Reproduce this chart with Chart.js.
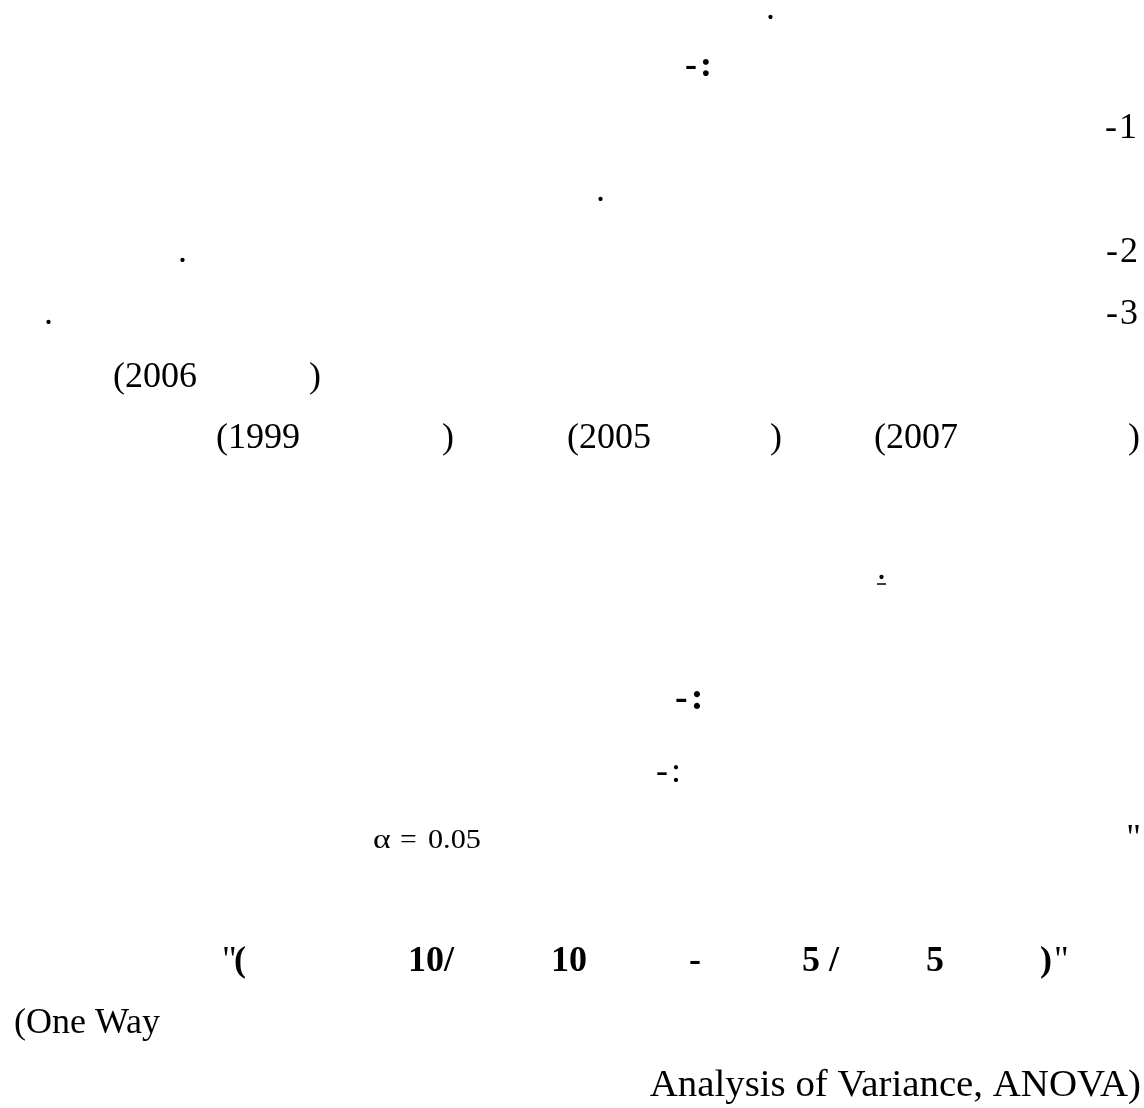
<!DOCTYPE html>
<html>
<head>
<meta charset="utf-8">
<script src="https://cdn.jsdelivr.net/npm/chart.js@4/dist/chart.umd.min.js"></script>
<style>
  html, body { margin: 0; padding: 0; background: #ffffff; }
  #wrap { width: 1144px; height: 1108px; }
  canvas { display: block; }
</style>
</head>
<body>
<div id="wrap"><canvas id="c" width="1144" height="1108"></canvas></div>
<script>
// ---- text content (values) ----
const periodMark = '.';
const sectionMarks = ['-:', '-:', '-:'];
const itemNumbers = ['-1', '-2', '-3'];
const citationOpen = ['(2006', '(1999', '(2005', '(2007'];
const citationClose = ')';
const alphaParts = ['\u03B1', '=', '0.05'];
const quoteMark = '"';
const boldDateParts = ['(', '10/', '10', '-', '5 /', '5', ')'];
const anovaLines = ['(One Way', 'Analysis of Variance, ANOVA)'];

// ---- layout (positions / styles), kept separate from the text values ----
const SERIF = '"Liberation Serif", "Times New Roman", serif';
const layout = [
  { t: periodMark, x: 766, y: 19 },
  { t: sectionMarks[0], x: 685, y: 76, bold: true, spacing: 3 },
  { t: itemNumbers[0], x: 1105, y: 138, spacing: 2 },
  { t: periodMark, x: 596, y: 201 },
  { t: itemNumbers[1], x: 1106, y: 262, spacing: 2 },
  { t: periodMark, x: 178, y: 262 },
  { t: itemNumbers[2], x: 1106, y: 324, spacing: 2 },
  { t: periodMark, x: 44, y: 324 },
  { t: citationOpen[0], x: 113, y: 387 },
  { t: citationClose, x: 309, y: 387 },
  { t: citationOpen[1], x: 216, y: 448 },
  { t: citationClose, x: 442, y: 448 },
  { t: citationOpen[2], x: 567, y: 448 },
  { t: citationClose, x: 770, y: 448 },
  { t: citationOpen[3], x: 874, y: 448 },
  { t: citationClose, x: 1128, y: 448 },
  { t: periodMark, x: 877, y: 579, underline: true },
  { t: sectionMarks[1], x: 675, y: 709, bold: true, size: 38, spacing: 3 },
  { t: sectionMarks[2], x: 656, y: 782, spacing: 3 },
  { t: quoteMark, x: 1141, y: 849, align: 'right' },
  { t: alphaParts[0], x: 373, y: 848, size: 27, hscale: 1.25 },
  { t: alphaParts[1], x: 400, y: 848, size: 27, hscale: 1.1 },
  { t: alphaParts[2], x: 428, y: 848, size: 27, hscale: 1.12 },
  { t: quoteMark, x: 222, y: 971 },
  { t: boldDateParts[0], x: 234, y: 971, bold: true },
  { t: boldDateParts[1], x: 408, y: 971, bold: true },
  { t: boldDateParts[2], x: 551, y: 971, bold: true },
  { t: boldDateParts[3], x: 689, y: 971, bold: true },
  { t: boldDateParts[4], x: 802, y: 971, bold: true },
  { t: boldDateParts[5], x: 926, y: 971, bold: true },
  { t: boldDateParts[6], x: 1040, y: 971, bold: true },
  { t: quoteMark, x: 1054, y: 971 },
  { t: anovaLines[0], x: 14, y: 1033 },
  { t: anovaLines[1], x: 1141, y: 1096, align: 'right', size: 37, hscale: 1.05 }
];

const textPlugin = {
  id: 'pageText',
  afterDraw(chart) {
    const ctx = chart.ctx;
    const xs = chart.scales.x, ys = chart.scales.y;
    ctx.save();
    ctx.fillStyle = '#000000';
    ctx.strokeStyle = '#000000';
    ctx.textBaseline = 'alphabetic';
    layout.forEach(item => {
      const size = item.size || 36;
      ctx.font = (item.bold ? 'bold ' : '') + size + 'px ' + SERIF;
      ctx.textAlign = item.align || 'left';
      if ('letterSpacing' in ctx) ctx.letterSpacing = (item.spacing || 0) + 'px';
      const px = xs.getPixelForValue(item.x);
      const py = ys.getPixelForValue(item.y);
      const k = item.hscale || 1;
      ctx.save();
      ctx.translate(px, py);
      ctx.scale(k, 1);
      ctx.fillText(item.t, 0, 0);
      ctx.restore();
      if (item.underline) {
        const w = ctx.measureText(item.t).width;
        ctx.lineWidth = 1.5;
        ctx.beginPath();
        ctx.moveTo(px, py + 5);
        ctx.lineTo(px + w, py + 5);
        ctx.stroke();
      }
    });
    ctx.restore();
  }
};

new Chart(document.getElementById('c'), {
  type: 'scatter',
  data: { datasets: [{ data: [], showLine: false, pointRadius: 0 }] },
  options: {
    responsive: false,
    devicePixelRatio: 1,
    animation: false,
    layout: { padding: 0 },
    plugins: { legend: { display: false }, tooltip: { enabled: false } },
    scales: {
      x: { type: 'linear', min: 0, max: 1144, display: false },
      y: { type: 'linear', min: 0, max: 1108, reverse: true, display: false }
    }
  },
  plugins: [textPlugin]
});
</script>
</body>
</html>
